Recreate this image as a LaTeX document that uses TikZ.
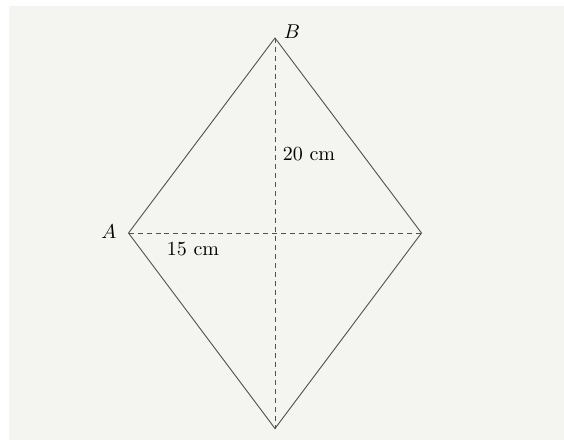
\documentclass[tikz,border=0pt]{standalone}
\usepackage{xcolor}
\definecolor{bgc}{HTML}{F4F5F0}
\definecolor{linec}{HTML}{505050}
\begin{document}
\begin{tikzpicture}[x=0.5pt,y=-0.5pt,
  edge/.style={draw=linec,line width=0.45pt},
  diag/.style={draw=linec,line width=0.45pt,dash pattern=on 2.5pt off 2pt},
  lbl/.style={inner sep=0pt,text=black}]
\useasboundingbox (0,0) rectangle (564,440);
\fill[bgc] (9,6) rectangle (564,440);
\coordinate (B) at (275,38);
\coordinate (A) at (128.5,233);
\coordinate (C) at (421.5,233);
\coordinate (D) at (275,428.5);
\draw[edge] (A) -- (B) -- (C) -- (D) -- cycle;
\draw[diag] (A) -- (C);
\draw[diag] (B) -- (D);
\node[lbl] (lB) at (292,32) {$B$};
\node[lbl] (lA) at (109,232) {$A$};
\node[lbl] (l15) at (193,249) {15 cm};
\node[lbl] (l20) at (309,154) {20 cm};
\end{tikzpicture}
\end{document}
